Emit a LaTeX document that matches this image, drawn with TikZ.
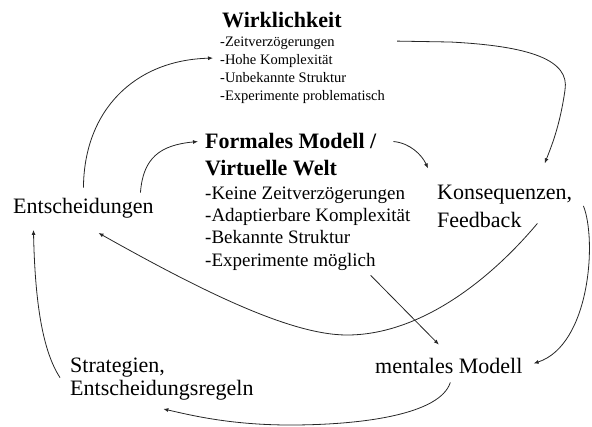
\documentclass[tikz,border=0pt]{standalone}
\usepackage{fontspec}
\setmainfont{Liberation Serif}
\usetikzlibrary{arrows.meta,calc}
\tikzset{
  lbl/.style={inner sep=0pt,anchor=base west,align=left,font=\fontsize{22}{28}\selectfont},
  ttl/.style={lbl,font=\bfseries\fontsize{22}{27}\selectfont},
  wlst/.style={lbl,font=\fontsize{14.5}{17.7}\selectfont},
  flst/.style={lbl,font=\fontsize{19}{22.3}\selectfont},
  link/.style={line width=0.8pt,draw=black!85,-{Latex[length=5pt,width=4pt]}},
}

\begin{document}
\begin{tikzpicture}[x=1pt,y=1pt]
  \useasboundingbox (0,0) rectangle (592,-426);
  % reality (base = last line)
  \node[ttl] (wtitle) at (222,-27) {Wirklichkeit};
  \node[wlst] (wlist) at (220,-100) {-Zeitverzögerungen\\-Hohe Komplexität\\-Unbekannte Struktur\\-Experimente problematisch};
  % formal model
  \node[ttl] (ftitle) at (205,-175) {Formales Modell /\\Virtuelle Welt};
  \node[flst] (flist) at (205,-266) {-Keine Zeitverzögerungen\\-Adaptierbare Komplexität\\-Bekannte Struktur\\-Experimente möglich};
  % the other boxes
  \node[lbl] (ent) at (13,-213) {Entscheidungen};
  \node[lbl] (kons) at (437,-227) {Konsequenzen,\\Feedback};
  \node[lbl,font=\fontsize{22}{23}\selectfont] (strat) at (70,-395) {Strategien,\\Entscheidungsregeln};
  \node[lbl] (ment) at (375,-373) {mentales Modell};
  % links
  \draw[link] ($(ent.north)+(0,10)$) .. controls (84,-110) and (135,-60) .. ($(wlist.north west)+(-7,-21)$);
  \draw[link] ($(ent.north)+(57,5)$) .. controls (143,-158) and (160,-145) .. ($(ftitle.north west)+(-7,-9)$);
  \draw[link] ($(wlist.north east)+(12,-4)$) -- (450,-42) .. controls (530,-46) and (570,-60) .. (565,-90)
    .. controls (560,-125) and (552,-145) .. ($(kons.north)+(40,21)$);
  \draw[link] ($(ftitle.north east)+(17,-9)$) .. controls (410,-143) and (422,-155) .. ($(kons.north west)+(-9,16)$);
  \draw[link] ($(kons.south east)+(-35,4)$) .. controls (490,-280) and (420,-335) .. (347,-335)
    .. controls (290,-335) and (200,-290) .. ($(ent.south)+(15,-15)$);
  \draw[link] ($(flist.south east)+(-40,-5)$) -- ($(ment.north)+(-10,13)$);
  \draw[link] ($(kons.east)+(11,0)$) .. controls (597,-240) and (590,-345) .. ($(ment.east)+(11,2)$);
  \draw[link] ($(ment.south)+(1.5,-9)$) .. controls (440,-415) and (360,-425) .. (290,-425)
    .. controls (230,-425) and (190,-415) .. ($(strat.south)+(1.5,-9)$);
  \draw[link] ($(strat.west)+(-10,1)$) .. controls (42,-350) and (35,-300) .. ($(ent.south)+(-50,-12)$);
\end{tikzpicture}
\end{document}
